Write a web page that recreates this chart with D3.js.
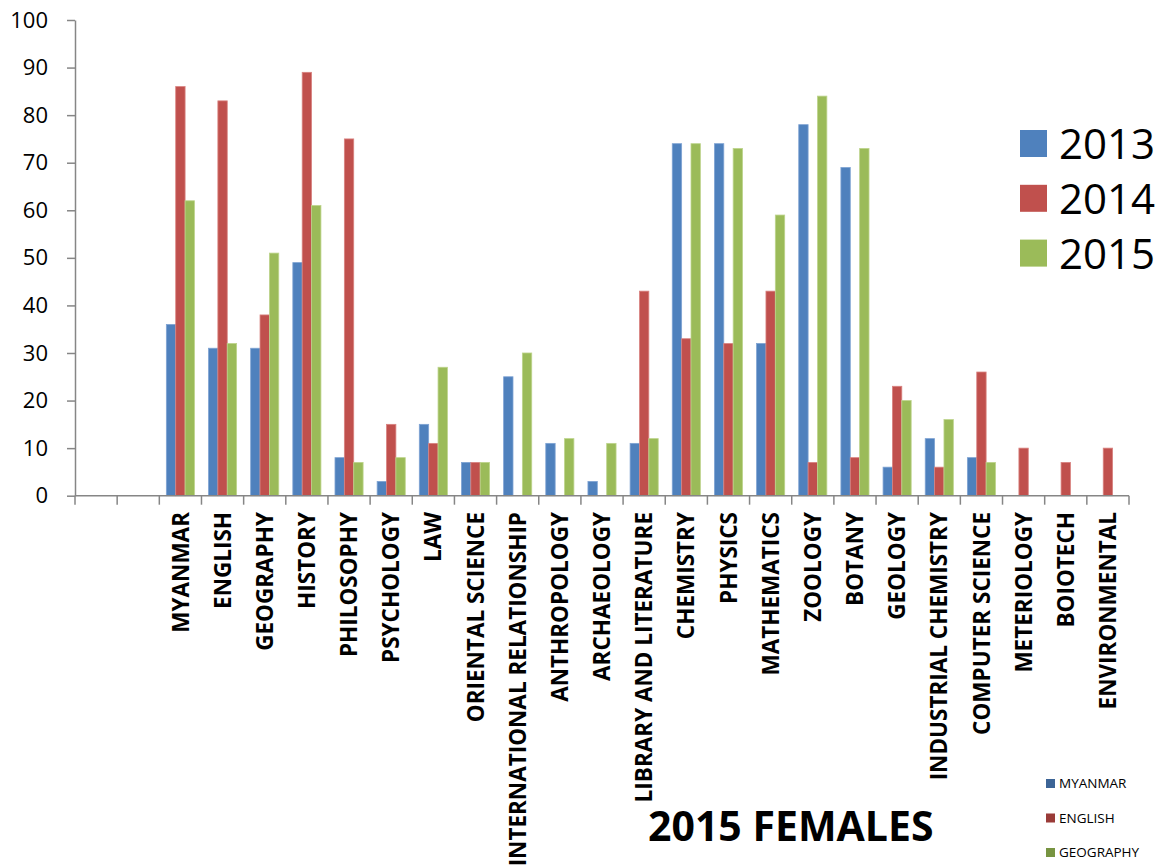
<!DOCTYPE html>
<html>
<head>
<meta charset="utf-8">
<script src="https://cdn.jsdelivr.net/npm/d3@7/dist/d3.min.js"></script>
<style>
  html, body { margin: 0; padding: 0; background: #fff; }
  svg { display: block; font-family: "Open Sans", "DejaVu Sans", sans-serif; }
</style>
</head>
<body>
<svg id="chart" width="1173" height="865"></svg>
<script>
// ---- data ----
const categories = ["", "", "MYANMAR", "ENGLISH", "GEOGRAPHY", "HISTORY", "PHILOSOPHY", "PSYCHOLOGY", "LAW",
  "ORIENTAL SCIENCE", "INTERNATIONAL RELATIONSHIP", "ANTHROPOLOGY", "ARCHAEOLOGY",
  "LIBRARY AND LITERATURE", "CHEMISTRY", "PHYSICS", "MATHEMATICS", "ZOOLOGY", "BOTANY",
  "GEOLOGY", "INDUSTRIAL CHEMISTRY", "COMPUTER SCIENCE", "METERIOLOGY", "BOIOTECH", "ENVIRONMENTAL"];
const seriesNames = ["2013", "2014", "2015"];
const values2013 = [null, null, 36, 31, 31, 49, 8, 3, 15, 7, 25, 11, 3, 11, 74, 74, 32, 78, 69, 6, 12, 8, null, null, null];
const values2014 = [null, null, 86, 83, 38, 89, 75, 15, 11, 7, null, null, null, 43, 33, 32, 43, 7, 8, 23, 6, 26, 10, 7, 10];
const values2015 = [null, null, 62, 32, 51, 61, 7, 8, 27, 7, 30, 12, 11, 12, 74, 73, 59, 84, 73, 20, 16, 7, null, null, null];
const yTicks = [0, 10, 20, 30, 40, 50, 60, 70, 80, 90, 100];
const secondLegend = ["MYANMAR", "ENGLISH", "GEOGRAPHY"];
const title = "2015 FEMALES";

// ---- styles ----
const colors = ["#4F81BD", "#C0504D", "#9BBB59"];
const edge = ["#7FA3D3", "#D98380", "#BDD48C"];
const darkColors = ["#3C6496", "#9A3B38", "#779441"];
const axisColor = "#868686";

const svg = d3.select("#chart");
const allSeries = [values2013, values2014, values2015];

const x = d3.scaleBand().domain(d3.range(categories.length)).range([75, 1129]).padding(0);
const y = d3.scaleLinear().domain([0, 100]).range([495.7, 20]);
const xs = d3.scaleBand().domain(d3.range(seriesNames.length)).range([0, x.bandwidth()])
  .paddingInner(0).paddingOuter(0.75);

// y axis
const yAxis = svg.append("g").attr("transform", "translate(75,0)")
  .call(d3.axisLeft(y).tickValues(yTicks).tickSize(8).tickPadding(19).tickSizeOuter(0));
yAxis.select(".domain").attr("stroke", axisColor).attr("stroke-width", 1.5);
yAxis.selectAll(".tick line").attr("stroke", axisColor).attr("stroke-width", 1.5);
yAxis.selectAll(".tick text").attr("fill", "#000").style("font-size", "22px")
  .style("font-family", "'Open Sans', sans-serif");

// bars
const rows = categories.map((c, i) => ({ i, vals: allSeries.map(s => s[i]) }));
const groups = svg.append("g").selectAll("g").data(rows).join("g")
  .attr("transform", d => `translate(${x(d.i)},0)`);
groups.selectAll("rect")
  .data(d => d.vals.map((v, s) => ({ v, s })).filter(e => e.v != null))
  .join("rect")
  .attr("x", e => xs(e.s))
  .attr("width", xs.bandwidth())
  .attr("y", e => y(e.v))
  .attr("height", e => y(0) - y(e.v))
  .attr("fill", e => colors[e.s])
  .attr("stroke", e => edge[e.s])
  .attr("stroke-width", 0.8);

// x axis line and ticks
const xg = svg.append("g");
xg.append("line").attr("x1", x.range()[0]).attr("x2", x.range()[1])
  .attr("y1", y(0)).attr("y2", y(0)).attr("stroke", axisColor).attr("stroke-width", 1.5);
const boundaries = d3.range(categories.length).map(i => x(i)).concat([x.range()[1]]);
xg.selectAll("line.tk").data(boundaries).join("line").attr("class", "tk")
  .attr("x1", d => d).attr("x2", d => d)
  .attr("y1", y(0)).attr("y2", y(0) + 9)
  .attr("stroke", axisColor).attr("stroke-width", 1.5);

// x labels
xg.selectAll("text.xl").data(categories.map((c, i) => ({ c, i })).filter(d => d.c))
  .join("text").attr("class", "xl")
  .attr("transform", d => `translate(${x(d.i) + x.bandwidth() / 2},512) rotate(-90)`)
  .attr("text-anchor", "end")
  .attr("dy", "0.36em")
  .style("font-size", "22.5px").style("font-weight", "bold")
  .text(d => d.c);

// legend (years)
const lg = svg.append("g");
seriesNames.forEach((n, s) => {
  const cy = 143.5 + s * 54.8;
  lg.append("rect").attr("x", 1020).attr("y", cy - 13.5).attr("width", 27).attr("height", 27)
    .attr("fill", colors[s]);
  lg.append("text").attr("x", 1059).attr("y", cy + 15.5)
    .style("font-size", "42px").text(n);
});

// second legend
const lg2 = svg.append("g");
secondLegend.forEach((n, s) => {
  const cy = 783.5 + s * 34.5;
  lg2.append("rect").attr("x", 1046).attr("y", cy - 4.5).attr("width", 9).attr("height", 9)
    .attr("fill", darkColors[s]);
  lg2.append("text").attr("x", 1059).attr("y", cy + 4.8)
    .style("font-size", "13.5px").text(n);
});

// title
svg.append("text").attr("x", 648).attr("y", 841)
  .style("font-size", "41px").style("font-weight", "bold").text(title);
</script>
</body>
</html>
